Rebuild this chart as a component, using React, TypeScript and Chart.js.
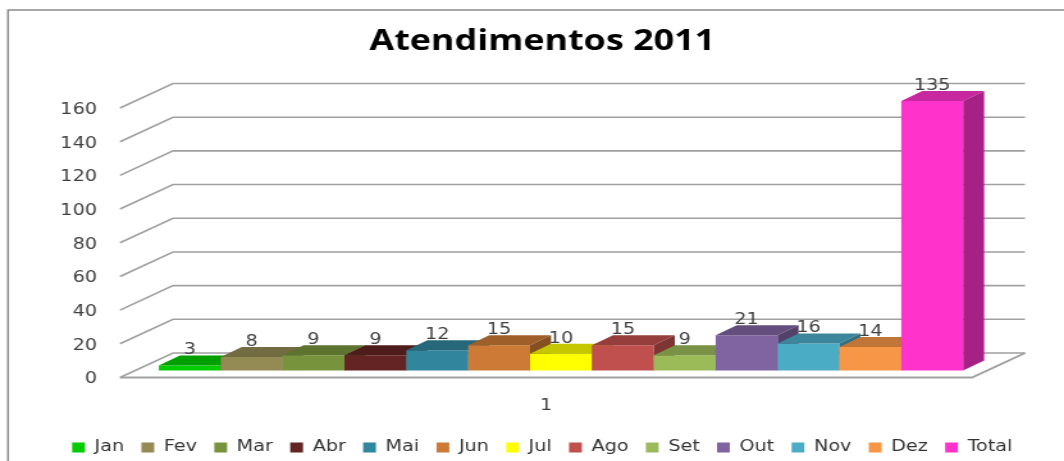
import React, { useEffect, useRef } from 'react';
import { Chart, registerables } from 'chart.js';

Chart.register(...registerables);

// ---------- data ----------
const categories = ['1'];
const seriesNames = ['Jan', 'Fev', 'Mar', 'Abr', 'Mai', 'Jun', 'Jul', 'Ago', 'Set', 'Out', 'Nov', 'Dez', 'Total'];
// column heights as drawn (the Total column reaches the axis maximum in the picture)
const barValues = [3, 8, 9, 9, 12, 15, 10, 15, 9, 21, 16, 14, 160];
// value labels as printed above the columns
const valueLabels = ['3', '8', '9', '9', '12', '15', '10', '15', '9', '21', '16', '14', '135'];
const yMin = 0;
const yMax = 160;
const yStep = 20;
const titleText = 'Atendimentos 2011';

// ---------- styles ----------
const frontColors = ['#00CC00', '#948A54', '#77933C', '#632423', '#31859C', '#CC7A35', '#FFFF00', '#C0504D', '#9BBB59', '#8064A2', '#4BACC6', '#F79646', '#FF33CC'];

const shade = (hex: string, f: number) => {
  const n = parseInt(hex.slice(1), 16);
  const r = Math.round(((n >> 16) & 255) * f);
  const g = Math.round(((n >> 8) & 255) * f);
  const b = Math.round((n & 255) * f);
  return `rgb(${r},${g},${b})`;
};

const PAGE_W = 1064;
const CANVAS_W = 831; // drawn narrower, stretched to page width (text in the reference is stretched)
const CANVAS_H = 465;
const S = PAGE_W / CANVAS_W;

const AREA_LEFT = 120 / S;
const AREA_RIGHT = 972 / S;
const PAD_LEFT = 16;
const WALL_DX = 53 / S;
const WALL_DY = -24.5;
const BAR_DX = 15 / S;
const BAR_DY = -7;
const BAR_DEPTH_X = 21 / S;
const BAR_DEPTH_Y = -10;
const BORDER_X = 8 / S;
const BORDER_Y = 10;
const GRID_COLOR = '#A0A0A0';
const TEXT_COLOR = '#404040';
const FONT = '"DejaVu Sans", Verdana, sans-serif';

const threeD = {
  id: 'threeD',
  beforeDraw(chart: any) {
    const { ctx, chartArea: a } = chart;
    const y = chart.scales.y;
    ctx.save();
    ctx.strokeStyle = '#8C8C8C';
    ctx.lineWidth = 1.5;
    ctx.strokeRect(BORDER_X, BORDER_Y, chart.width + 50, chart.height + 50);

    ctx.strokeStyle = GRID_COLOR;
    ctx.lineWidth = 1.6;
    for (const t of y.ticks) {
      const py = y.getPixelForValue(t.value);
      ctx.beginPath();
      ctx.moveTo(a.left, py);
      ctx.lineTo(a.left + WALL_DX, py + WALL_DY);
      ctx.lineTo(a.right + WALL_DX, py + WALL_DY);
      ctx.stroke();
    }
    const y0 = y.getPixelForValue(0);
    ctx.lineWidth = 2;
    ctx.beginPath();
    ctx.moveTo(a.left, y0);
    ctx.lineTo(a.right, y0);
    ctx.lineTo(a.right + WALL_DX, y0 + WALL_DY);
    ctx.stroke();
    ctx.restore();
  },
  beforeDatasetsDraw(chart: any) {
    const ctx = chart.ctx;
    ctx.save();
    ctx.translate(BAR_DX, BAR_DY);
    const tops: { x: number; y: number; i: number }[] = [];
    chart.data.datasets.forEach((ds: any, i: number) => {
      const meta = chart.getDatasetMeta(i);
      if (meta.hidden) return;
      meta.data.forEach((bar: any) => {
        const { x, y, base, width } = bar.getProps(['x', 'y', 'base', 'width'], true);
        const l = x - width / 2;
        const r = x + width / 2;
        bar.draw(ctx);
        ctx.fillStyle = shade(frontColors[i], 0.78);
        ctx.beginPath();
        ctx.moveTo(l, y);
        ctx.lineTo(l + BAR_DEPTH_X, y + BAR_DEPTH_Y);
        ctx.lineTo(r + BAR_DEPTH_X, y + BAR_DEPTH_Y);
        ctx.lineTo(r, y);
        ctx.closePath();
        ctx.fill();
        ctx.fillStyle = shade(frontColors[i], 0.65);
        ctx.beginPath();
        ctx.moveTo(r, y);
        ctx.lineTo(r + BAR_DEPTH_X, y + BAR_DEPTH_Y);
        ctx.lineTo(r + BAR_DEPTH_X, base + BAR_DEPTH_Y);
        ctx.lineTo(r, base);
        ctx.closePath();
        ctx.fill();
        tops.push({ x, y, i });
      });
    });
    ctx.fillStyle = TEXT_COLOR;
    ctx.font = `15px ${FONT}`;
    ctx.textAlign = 'center';
    ctx.textBaseline = 'middle';
    for (const t of tops) {
      ctx.fillText(valueLabels[t.i], t.x, t.y - 15);
    }
    ctx.restore();
    return false;
  },
};

export default function App() {
  const ref = useRef<HTMLCanvasElement>(null);
  useEffect(() => {
    const chart = new Chart(ref.current as HTMLCanvasElement, {
      type: 'bar',
      data: {
        labels: categories,
        datasets: seriesNames.map((name, i) => ({
          label: name,
          data: [barValues[i]],
          backgroundColor: frontColors[i],
          borderWidth: 0,
          yAxisID: 'y',
          categoryPercentage: 0.944,
          barPercentage: 1,
        })),
      },
      options: {
        responsive: false,
        animation: false,
        devicePixelRatio: 1,
        layout: { padding: { top: 10, left: PAD_LEFT, right: 0, bottom: 0 } },
        plugins: {
          title: {
            display: true,
            text: titleText,
            color: '#000',
            font: { family: '"Open Sans", Lato, sans-serif', size: 28, weight: 'bold' },
            padding: { top: 15, bottom: 49.4 },
          },
          legend: {
            position: 'bottom',
            labels: {
              color: '#333',
              font: { family: FONT, size: 15 },
              boxWidth: 10,
              boxHeight: 10,
              padding: 13.5,
            },
          },
          tooltip: { enabled: false },
        },
        scales: {
          x: {
            grid: { display: false, drawTicks: false },
            border: { display: false },
            ticks: { color: TEXT_COLOR, font: { family: FONT, size: 15 }, padding: 20 },
            afterFit: (s: any) => { s.height = 49; },
          },
          y: {
            position: 'left',
            min: yMin,
            max: yMax,
            grid: { display: false, drawTicks: false },
            border: { display: false },
            ticks: { stepSize: yStep, color: TEXT_COLOR, font: { family: FONT, size: 15 }, padding: 18, labelOffset: 2 },
            afterFit: (s: any) => { s.width = AREA_LEFT - PAD_LEFT; },
          },
          yR: {
            position: 'right',
            min: 0,
            max: 1,
            grid: { display: false, drawTicks: false },
            border: { display: false },
            ticks: { display: false },
            afterFit: (s: any) => { s.width = CANVAS_W - AREA_RIGHT; },
          },
        },
      },
      plugins: [threeD],
    } as any);
    return () => chart.destroy();
  }, []);
  return (
    <div style={{ position: 'fixed', left: 0, top: 0, width: PAGE_W, height: CANVAS_H, background: '#fff' }}>
      <canvas
        ref={ref}
        width={CANVAS_W}
        height={CANVAS_H}
        style={{ width: `${PAGE_W}px`, height: `${CANVAS_H}px`, display: 'block' }}
      />
    </div>
  );
}
